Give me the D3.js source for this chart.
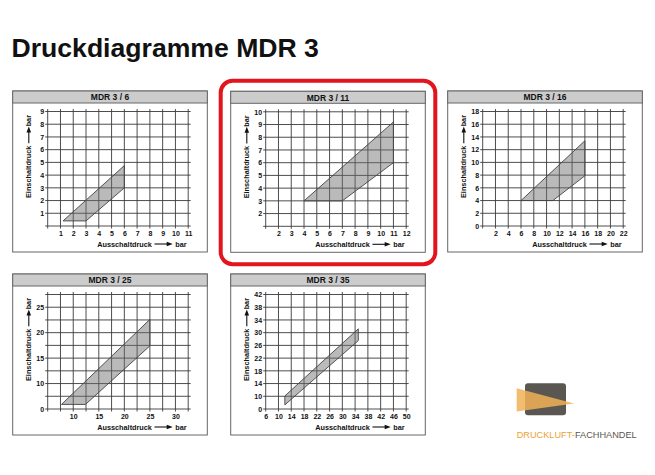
<!DOCTYPE html>
<html><head><meta charset="utf-8">
<script src="https://cdn.jsdelivr.net/npm/d3@7/dist/d3.min.js"></script>
<style>body{margin:0;background:#fff;} svg{display:block;font-family:"Liberation Sans",Arial,sans-serif;}</style>
</head><body><svg id="c" width="655" height="475"></svg>
<script>
// ---------- data ----------
const pageTitle = "Druckdiagramme MDR 3";
const panelTitles = ["MDR 3 / 6", "MDR 3 / 11", "MDR 3 / 16", "MDR 3 / 25", "MDR 3 / 35"];
const xAxisLabel = "Ausschaltdruck";
const yAxisLabel = "Einschaltdruck";
const unitLabel = "bar";
const xDomains = [[0, 11], [1, 12], [0, 22], [5, 32.5], [6, 50]];
const yDomains = [[0, 9], [1, 10], [0, 18], [5, 27.5], [6, 42]];
const gridStepX = [1, 1, 2, 2.5, 4];
const gridStepY = [1, 1, 2, 2.5, 4];
const xTicks = [
  [1, 2, 3, 4, 5, 6, 7, 8, 9, 10, 11],
  [2, 3, 4, 5, 6, 7, 8, 9, 10, 11, 12],
  [2, 4, 6, 8, 10, 12, 14, 16, 18, 20, 22],
  [10, 15, 20, 25, 30],
  [6, 10, 14, 18, 22, 26, 30, 34, 38, 42, 46, 50]
];
const yTicks = [
  [1, 2, 3, 4, 5, 6, 7, 8, 9],
  [2, 3, 4, 5, 6, 7, 8, 9, 10],
  [0, 2, 4, 6, 8, 10, 12, 14, 16, 18],
  [5, 10, 15, 20, 25],
  [6, 10, 14, 18, 22, 26, 30, 34, 38, 42]
];
const yTickLabels = [
  ["1", "2", "3", "4", "5", "6", "7", "8", "9"],
  ["2", "3", "4", "5", "6", "7", "8", "9", "10"],
  ["0", "2", "4", "6", "8", "10", "12", "14", "16", "18"],
  ["0", "10", "15", "20", "25"],
  ["0", "10", "14", "18", "22", "26", "30", "34", "38", "42"]
];
// switching ranges [Ausschaltdruck, Einschaltdruck]
const range6  = [[1.2, 0.4], [6, 4.75], [6, 3], [3, 0.4]];
const range11 = [[4, 3], [11, 9.2], [11, 6], [7, 3]];
const range16 = [[6, 4], [16, 13.4], [16, 7.9], [11, 4]];
const range25 = [[7.7, 5.9], [25, 22.6], [25, 17.4], [12.4, 5.9]];
const range35 = [[12, 10.1], [35, 31.2], [35, 27.5], [12, 7.3]];
const ranges = [range6, range11, range16, range25, range35];
const highlighted = 1;
const logoWords = ["DRUCKLUFT-", "FACHHANDEL"];

// ---------- layout ----------
const svg = d3.select("#c");
const boxPos = [[12.7, 91], [230.7, 91.3], [447.7, 91], [12.7, 274], [230.7, 274]];
const BW = 194.6, BH = 161;
const PL = 35, PR = 175.5, PT = 20.5, PB = 135;

svg.append("text").attr("x", 11.5).attr("y", 57.3)
  .attr("font-size", 26.6).attr("font-weight", "bold").attr("fill", "#111")
  .text(pageTitle);

panelTitles.forEach((title, i) => {
  const [x0, y0] = boxPos[i];
  const g = svg.append("g");
  g.append("rect").attr("x", x0).attr("y", y0).attr("width", BW).attr("height", BH)
    .attr("fill", "#fff").attr("stroke", "#666").attr("stroke-width", 1);
  g.append("rect").attr("x", x0).attr("y", y0).attr("width", BW).attr("height", 12)
    .attr("fill", "#cccccc").attr("stroke", "#666").attr("stroke-width", 1);
  g.append("text").attr("x", x0 + BW / 2).attr("y", y0 + 6.3).attr("dy", "0.35em")
    .attr("text-anchor", "middle").attr("font-size", 8.5).attr("font-weight", "bold")
    .attr("fill", "#111").text(title);

  const x = d3.scaleLinear().domain(xDomains[i]).range([x0 + PL, x0 + PR]);
  const y = d3.scaleLinear().domain(yDomains[i]).range([y0 + PB, y0 + PT]);
  const ext = 2.5;
  const gx = d3.range(xDomains[i][0], xDomains[i][1] + 1e-6, gridStepX[i]);
  const gy = d3.range(yDomains[i][0], yDomains[i][1] + 1e-6, gridStepY[i]);

  // polygon (under grid so grid shows through)
  g.append("path").datum(ranges[i])
    .attr("d", d3.line().x(d => x(d[0])).y(d => y(d[1])).curve(d3.curveLinearClosed))
    .attr("fill", "#c4c4c4").attr("stroke", "none");

  g.append("g").selectAll("line").data(gx).join("line")
    .attr("x1", d => x(d)).attr("x2", d => x(d))
    .attr("y1", y.range()[0] + ext).attr("y2", y.range()[1] - ext)
    .attr("stroke", "#3a3a3a").attr("stroke-width", 0.9);
  g.append("g").selectAll("line").data(gy).join("line")
    .attr("y1", d => y(d)).attr("y2", d => y(d))
    .attr("x1", x.range()[0] - ext).attr("x2", x.range()[1] + ext)
    .attr("stroke", "#3a3a3a").attr("stroke-width", 0.9);

  g.append("path").datum(ranges[i])
    .attr("d", d3.line().x(d => x(d[0])).y(d => y(d[1])).curve(d3.curveLinearClosed))
    .attr("fill", "#9a9a9a").attr("fill-opacity", 0.25)
    .attr("stroke", "#444").attr("stroke-width", 0.9);

  // axes
  const ax = g.append("g").attr("transform", `translate(0,${y0 + PB})`)
    .call(d3.axisBottom(x).tickValues(xTicks[i]).tickSize(0).tickPadding(4.6).tickFormat(d3.format("")));
  ax.select(".domain").remove();
  ax.selectAll("text").attr("font-size", 7).attr("font-weight", "bold").attr("fill", "#111")
    .attr("font-family", "Liberation Sans, Arial, sans-serif");
  const labs = yTickLabels[i];
  const ay = g.append("g").attr("transform", `translate(${x0 + PL},0)`)
    .call(d3.axisLeft(y).tickValues(yTicks[i]).tickSize(0).tickPadding(3.6)
      .tickFormat((d, k) => labs[k]));
  ay.select(".domain").remove();
  ay.selectAll("text").attr("font-size", 7).attr("font-weight", "bold").attr("fill", "#111")
    .attr("font-family", "Liberation Sans, Arial, sans-serif");

  // axis titles
  const fs = 7.3;
  const tx = g.append("text").attr("x", x0 + 84.5).attr("y", y0 + 155.5)
    .attr("font-size", fs).attr("font-weight", "bold").attr("fill", "#111").text(xAxisLabel);
  const w1 = tx.node().getComputedTextLength();
  g.append("text").attr("x", x0 + 174).attr("y", y0 + 155.5).attr("text-anchor", "end")
    .attr("font-size", fs).attr("font-weight", "bold").attr("fill", "#111").text(unitLabel);
  const a1 = x0 + 84.5 + w1 + 2.5, a2 = x0 + 171.5 - 11.5;
  const ay0 = y0 + 153;
  g.append("line").attr("x1", a1).attr("x2", a2 - 4).attr("y1", ay0).attr("y2", ay0)
    .attr("stroke", "#111").attr("stroke-width", 1.1);
  g.append("path").attr("d", `M${a2},${ay0} L${a2 - 6},${ay0 - 2.3} L${a2 - 6},${ay0 + 2.3} Z`).attr("fill", "#111");

  const gr = g.append("g").attr("transform", `translate(${x0 + 18.6},${y0 + 107}) rotate(-90)`);
  const ty = gr.append("text").attr("x", 0).attr("y", 0)
    .attr("font-size", fs).attr("font-weight", "bold").attr("fill", "#111").text(yAxisLabel);
  const w2 = ty.node().getComputedTextLength();
  gr.append("text").attr("x", 83).attr("y", 0).attr("text-anchor", "end")
    .attr("font-size", fs).attr("font-weight", "bold").attr("fill", "#111").text(unitLabel);
  const b1 = w2 + 2.5, b2 = 83 - 11.5;
  gr.append("line").attr("x1", b1).attr("x2", b2 - 4).attr("y1", -2.5).attr("y2", -2.5)
    .attr("stroke", "#111").attr("stroke-width", 1.1);
  gr.append("path").attr("d", `M${b2},-2.5 L${b2 - 6},-4.8 L${b2 - 6},-0.2 Z`).attr("fill", "#111");
});

// highlight of selected panel
svg.append("rect").attr("x", 220.7).attr("y", 80.7).attr("width", 214.6).attr("height", 183.6)
  .attr("rx", 12).attr("fill", "none").attr("stroke", "#e3151c").attr("stroke-width", 4);

// logo
const defs = svg.append("defs");
const pat = defs.append("pattern").attr("id", "dots").attr("patternUnits", "userSpaceOnUse")
  .attr("width", 1.6).attr("height", 1.6);
pat.append("rect").attr("width", 1.6).attr("height", 1.6).attr("fill", "#f6c070");
pat.append("circle").attr("cx", 0.8).attr("cy", 0.8).attr("r", 0.55).attr("fill", "#e8962a");
svg.append("rect").attr("x", 525).attr("y", 383.3).attr("width", 41).attr("height", 32)
  .attr("rx", 3).attr("fill", "#5a5652");
svg.append("path").attr("d", "M516.7,388.3 L574,403.5 L516.7,411.5 Z")
  .attr("fill", "url(#dots)").attr("fill-opacity", 0.85);
const lt = svg.append("text").attr("x", 516.7).attr("y", 438.3).attr("font-size", 9.6)
  .attr("textLength", 120).attr("lengthAdjust", "spacingAndGlyphs");
lt.append("tspan").attr("fill", "#eda236").text(logoWords[0]);
lt.append("tspan").attr("fill", "#5a5652").text(logoWords[1]);
</script></body></html>
